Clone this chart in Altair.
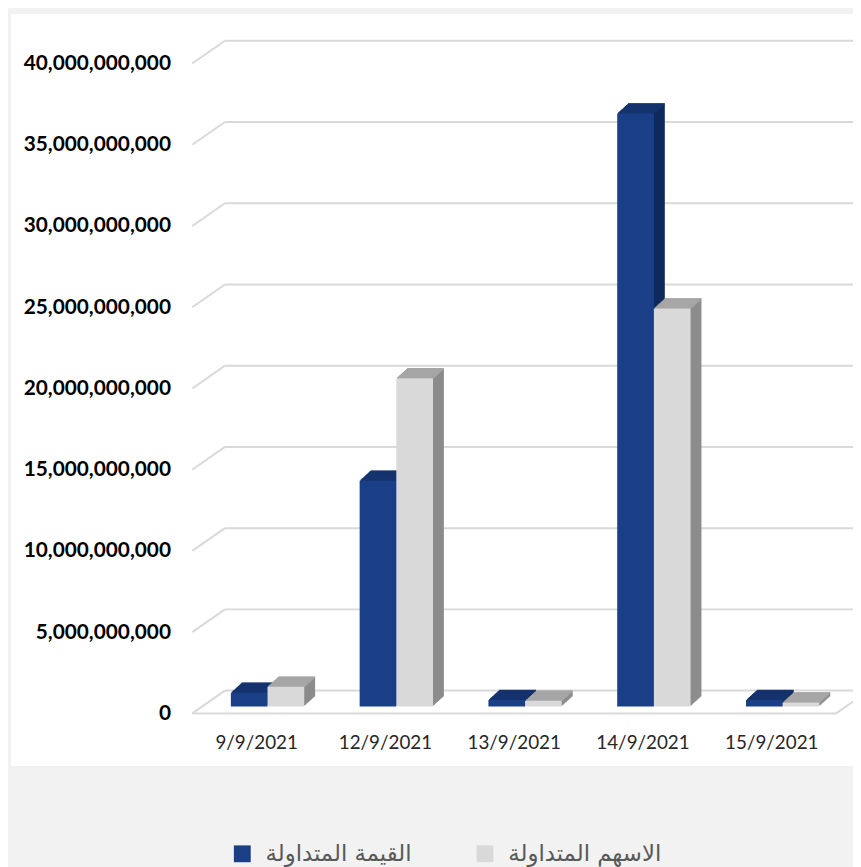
import altair as alt
import pandas as pd

# ---- data ----
dates = ["9/9/2021", "12/9/2021", "13/9/2021", "14/9/2021", "15/9/2021"]
series_names = ["القيمة المتداولة", "الاسهم المتداولة"]
traded_value = [0.85e9, 13.9e9, 0.40e9, 36.5e9, 0.40e9]
traded_shares = [1.22e9, 20.2e9, 0.35e9, 24.5e9, 0.25e9]
tick_values = [0, 5e9, 10e9, 15e9, 20e9, 25e9, 30e9, 35e9, 40e9]

front_colors = ["#1a3f87", "#d9d9d9"]
top_colors = ["#14336e", "#a6a6a6"]
side_colors = ["#0f2a5c", "#8c8c8c"]

rows = []
for d, a, b in zip(dates, traded_value, traded_shares):
    rows.append({"date": d, "series": series_names[0], "v": a})
    rows.append({"date": d, "series": series_names[1], "v": b})
df = pd.DataFrame(rows)
ticks_df = pd.DataFrame({"v": tick_values})

W, H = 650, 656
DX, DY = 11, 10        # bar depth
BX, BY = 11, -7        # bar plane offset from front plane
GX, GY = 33, -23       # wall depth
HALF = 18.5            # half bar width

yscale = alt.Scale(domain=[0, 4e10], nice=False, zero=True)
xscale = alt.Scale(paddingInner=0.43, paddingOuter=0.215)

xs = alt.X("date:N", sort=dates, scale=xscale,
           axis=alt.Axis(title=None, domain=False, ticks=False, labelAngle=0,
                         labelFontSize=19, labelFont="Lato", labelColor="#262626",
                         labelPadding=20, zindex=5))
ys = alt.Y("v:Q", scale=yscale,
           axis=alt.Axis(title=None, values=tick_values, format=",.0f", domain=False,
                         ticks=False, grid=False, labelFontSize=21, labelFont="Lato",
                         labelFontWeight="bold", labelColor="#000000", labelPadding=22,
                         zindex=5))

base = alt.Chart(df)

# white chart panel
panel = alt.Chart(pd.DataFrame({"a": [0]})).mark_rect(color="white").encode(
    x=alt.value(-183), x2=alt.value(667), y=alt.value(-50), y2=alt.value(709)
)

# back-wall gridlines (horizontal part) and side-wall slanted part
grid_back = alt.Chart(ticks_df).mark_rule(color="#d9d9d9", strokeWidth=2, yOffset=GY).encode(
    y=ys, x=alt.value(GX), x2=alt.value(700),
)
grid_slant = alt.Chart(ticks_df).mark_rule(color="#d9d9d9", strokeWidth=2, y2Offset=GY).encode(
    y=ys, y2="v:Q", x=alt.value(0), x2=alt.value(GX),
)
floor_df = pd.DataFrame({"v": [0]})
floor_front = alt.Chart(floor_df).mark_rule(color="#d9d9d9", strokeWidth=2).encode(
    y=ys, x=alt.value(0), x2=alt.value(W),
)
floor_right = alt.Chart(floor_df).mark_rule(color="#d9d9d9", strokeWidth=2, y2Offset=GY).encode(
    y=ys, y2="v:Q", x=alt.value(W), x2=alt.value(W + GX),
)

layers = [panel, grid_back, grid_slant, floor_front, floor_right]

side_off = [-HALF, HALF]
bw = alt.RelativeBandSize(0.5)

for si, s in enumerate(series_names):
    sb = base.transform_filter(alt.datum.series == s)
    # side faces: extruded copies
    for i in range(DX, 0, -1):
        off_y = BY - i * DY / DX
        layers.append(
            sb.mark_bar(width=bw, color=side_colors[si],
                        xOffset=BX + side_off[si] + i, yOffset=off_y, y2Offset=off_y)
            .encode(x=xs, y=ys, y2=alt.datum(0))
        )
    # top faces: thin strips
    for i in range(1, DX + 1):
        y_top = BY - i * DY / DX
        y_bot = BY - (i - 1) * DY / DX
        layers.append(
            sb.mark_bar(width=bw, color=top_colors[si],
                        xOffset=BX + side_off[si] + i, yOffset=y_top - 0.3, y2Offset=y_bot + 0.3)
            .encode(x=xs, y=ys, y2="v:Q")
        )
    # front face
    layers.append(
        sb.mark_bar(width=bw, xOffset=BX + side_off[si], yOffset=BY, y2Offset=BY).encode(
            x=xs, y=ys, y2=alt.datum(0),
            color=alt.Color("series:N",
                            scale=alt.Scale(domain=series_names, range=front_colors),
                            legend=alt.Legend(title=None, orient="none", direction="horizontal",
                                              legendX=39, legendY=786, symbolType="square",
                                              symbolSize=289, symbolStrokeWidth=0,
                                              symbolOpacity=1, labelFontSize=23,
                                              labelFont="DejaVu Sans", labelColor="#595959",
                                              labelOffset=12, columnPadding=62, labelLimit=400,
                                              padding=0, zindex=5)),
        )
    )

chart = alt.layer(*layers).properties(
    width=W, height=H,
    autosize=alt.AutoSizeParams(type="none"),
    padding={"left": 186, "top": 52, "right": 17, "bottom": 151},
    background="#f2f2f2",
).configure_view(stroke=None)

chart.save("out.html", embed_options={"renderer": "svg", "actions": False})
